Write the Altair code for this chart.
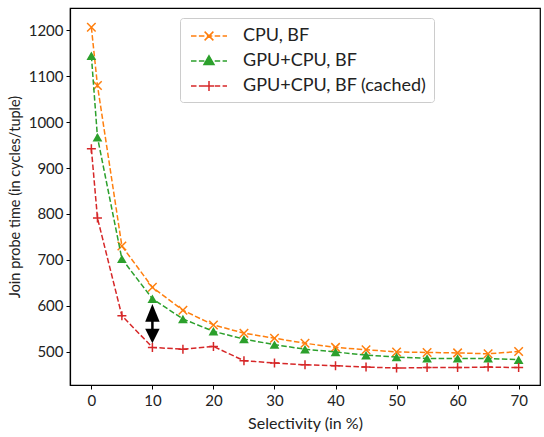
import altair as alt
import pandas as pd

# Selectivity levels (in %) and join probe times (cycles/tuple)
selectivity = [0, 1, 5, 10, 15, 20, 25, 30, 35, 40, 45, 50, 55, 60, 65, 70]
cpu_bf = [1207, 1080, 730, 640, 590, 558, 540, 529, 518, 509, 504, 499, 498, 497, 495, 500]
gpu_cpu_bf = [1145, 967, 702, 615, 571, 544, 527, 515, 505, 499, 492, 488, 485, 485, 485, 482]
gpu_cpu_bf_cached = [942, 791, 578, 509, 505, 511, 480, 475, 471, 469, 466, 464, 465, 465, 466, 465]

series_names = ["CPU, BF", "GPU+CPU, BF", "GPU+CPU, BF (cached)"]
series_colors = ["#ff7f0e", "#2ca02c", "#d62728"]

# Gap highlighted by the double arrow at 10 % selectivity
arrow_sel = [10]
arrow_high = [615]
arrow_low = [509]

rows = []
for name, values in zip(series_names, [cpu_bf, gpu_cpu_bf, gpu_cpu_bf_cached]):
    for s, v in zip(selectivity, values):
        rows.append({"sel": s, "time": v, "series": name})
df = pd.DataFrame(rows)
arrow_df = pd.DataFrame({"sel": arrow_sel, "hi": arrow_high, "lo": arrow_low})

TEXT_FONT = "Lato"

x_scale = alt.Scale(domain=[-3.5, 73.5], nice=False, zero=False)
y_scale = alt.Scale(domain=[427, 1249], nice=False, zero=False)
x_axis = alt.Axis(
    values=list(range(0, 80, 10)), title="Selectivity (in %)", format="d",
    labelFontSize=15, titleFontSize=16, labelPadding=4, titlePadding=7,
)
y_axis = alt.Axis(
    values=list(range(500, 1300, 100)), title="Join probe time (in cycles/tuple)", format="d",
    labelFontSize=15, titleFontSize=14.5, labelPadding=3, titlePadding=6,
)


def xenc(field="sel"):
    return alt.X(f"{field}:Q", scale=x_scale, axis=x_axis)


def yenc(field="time"):
    return alt.Y(f"{field}:Q", scale=y_scale, axis=y_axis)


# Legend glyphs: dashed line segment with the series marker in the middle
dash = (
    "M-0.7,0L-0.15,0M0.09,0L0.64,0M0.88,0L1.43,0"
    "M1.67,0L2.22,0M2.46,0L2.9,0"
)
legend_shapes = [
    dash + "M0.66,-0.44L1.54,0.44M0.66,0.44L1.54,-0.44",
    dash + "M1.1,-0.52L1.6,0.36L0.6,0.36Z",
    dash + "M0.6,0L1.6,0M1.1,-0.5L1.1,0.5",
]

legend = alt.Legend(
    title=None,
    orient="none",
    legendX=110,
    legendY=10,
    labelFont=TEXT_FONT,
    labelFontSize=18,
    labelColor="#222222",
    labelLimit=400,
    labelOffset=34,
    symbolSize=400,
    symbolStrokeWidth=1.5,
    symbolOpacity=1,
    fillColor="white",
    strokeColor="#cccccc",
    cornerRadius=3,
    padding=7,
    rowPadding=5,
)

marker_props = [
    dict(shape="M-1,-1L1,1M-1,1L1,-1", filled=False, size=72, strokeWidth=1.5),
    dict(shape="triangle-up", filled=True, size=95),
    dict(shape="M-1,0L1,0M0,-1L0,1", filled=False, size=81, strokeWidth=1.5),
]

series_layers = []
for name, colour, props in zip(series_names, series_colors, marker_props):
    base = alt.Chart(df).transform_filter(alt.datum.series == name)
    series_layers.append(
        base.mark_line(strokeDash=[5.5, 2.4], strokeWidth=1.5, color=colour).encode(x=xenc(), y=yenc())
    )
    series_layers.append(
        base.mark_point(opacity=1, color=colour, **props).encode(x=xenc(), y=yenc())
    )

# Invisible layer that only carries the legend
legend_layer = (
    alt.Chart(df)
    .mark_point(filled=True, opacity=0, size=400, strokeWidth=1.5)
    .encode(
        x=xenc(),
        y=yenc(),
        color=alt.Color("series:N", scale=alt.Scale(domain=series_names, range=series_colors), legend=legend),
        stroke=alt.Stroke("series:N", scale=alt.Scale(domain=series_names, range=series_colors), legend=legend),
        shape=alt.Shape("series:N", scale=alt.Scale(domain=series_names, range=legend_shapes), legend=legend),
    )
)

arrow_shaft = alt.Chart(arrow_df).mark_rule(color="black", strokeWidth=2.5, yOffset=12, y2Offset=-10).encode(
    x=xenc(), y=yenc("hi"), y2="lo:Q"
)
arrow_up = alt.Chart(arrow_df).mark_point(
    shape="M0,0.6L-0.85,2.7L0.85,2.7Z", filled=True, color="black", opacity=1, size=289
).encode(x=xenc(), y=yenc("hi"))
arrow_down = alt.Chart(arrow_df).mark_point(
    shape="M0,-0.5L-0.85,-2.2L0.85,-2.2Z", filled=True, color="black", opacity=1, size=289
).encode(x=xenc(), y=yenc("lo"))

chart = (
    alt.layer(*series_layers, arrow_shaft, arrow_up, arrow_down, legend_layer)
    .properties(
        width=470,
        height=377,
        autosize=alt.AutoSizeParams(type="none"),
        padding={"left": 70, "top": 8, "right": 4, "bottom": 52},
    )
    .configure_view(stroke="black", strokeWidth=1.2)
    .configure_axis(
        grid=False,
        domainColor="black",
        domainWidth=1.2,
        tickColor="black",
        tickSize=4,
        tickWidth=1,
        labelFont=TEXT_FONT,
        labelColor="#222222",
        titleFont=TEXT_FONT,
        titleFontWeight="normal",
        titleColor="#222222",
    )
)

chart.save("out.html", embed_options={"renderer": "svg", "actions": False})
